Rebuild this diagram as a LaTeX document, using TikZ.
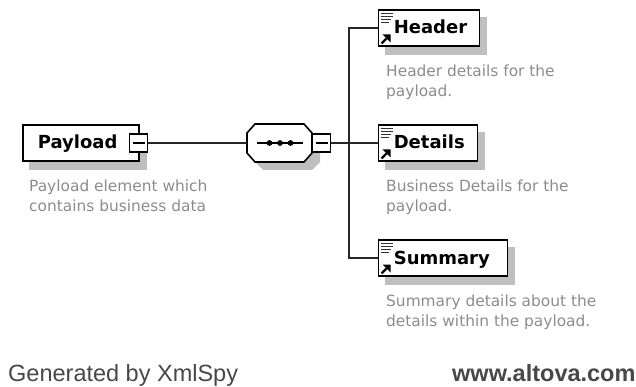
\documentclass[tikz,border=0pt]{standalone}
\usepackage{fontspec}
\setmainfont{Liberation Sans}
\newfontfamily\dvb{DejaVu Sans}[BoldFont={DejaVu Sans Bold}]
\definecolor{shade}{gray}{0.75}
\definecolor{desc}{gray}{0.55}
\tikzset{
  x=1pt,y=-1pt,
  boxrect/.style={draw=black,line width=1.6pt,fill=white,minimum height=36.5pt,inner xsep=0pt,inner ysep=0pt,anchor=west,text=black,align=left,text height=12pt,text depth=0pt,font=\dvb\bfseries\fontsize{18}{18}\selectfont},
  shadowfill/.style={fill=shade,draw=none},
  minusbox/.style={draw=black,line width=1.5pt,fill=white,minimum size=18pt,inner sep=0pt},
  link/.style={draw=black!85,line width=1.5pt},
  descr/.style={text=desc,anchor=north west,inner sep=0pt,align=left,font=\dvb\fontsize{15.4}{20}\selectfont},
  foot/.style={text=black!72,inner sep=0pt,anchor=base west,font=\fontsize{23.5}{26}\selectfont}
}
\newcommand{\refmark}[2]{%
  \draw[line width=1pt,black!80] (#1+3,#2+4)--(#1+15,#2+4) (#1+3,#2+7)--(#1+15,#2+7) (#1+3,#2+10)--(#1+13,#2+10) (#1+3,#2+13)--(#1+11,#2+13);
  \draw[line width=2.2pt] (#1+4,#2+34)--(#1+9,#2+29);
  \fill (#1+13,#2+25)--(#1+13,#2+33)--(#1+5,#2+25)--cycle;}
\begin{document}
\begin{tikzpicture}
\useasboundingbox (0,0) rectangle (636,387);
% shadows
\fill[shadowfill] (29,133) rectangle (147,170);
\fill[shadowfill] (255,133)--(320,133)--(320,162)--(312,170)--(263,170)--(255,162)--cycle;
\fill[shadowfill] (385,17) rectangle (487,55);
\fill[shadowfill] (385,132) rectangle (485,170);
\fill[shadowfill] (385,247) rectangle (515,285);
% nodes
\node[boxrect,text width=116pt] (payload) at (22,143) {\hspace*{15pt}Payload};
\node[minusbox] (m1) at (138.5,143) {};
\draw[line width=1.3pt] (m1.center)+(-6,0) -- +(6,0);
\node[boxrect,text width=101pt] (header) at (377.5,28) {\hspace*{15.5pt}Header};
\node[boxrect,text width=99pt] (details) at (377.5,143) {\hspace*{15.5pt}Details};
\node[boxrect,text width=129pt] (summary) at (377.5,258) {\hspace*{15.5pt}Summary};
\refmark{377.5}{9.5}
\refmark{377.5}{124.5}
\refmark{377.5}{239.5}
\coordinate (seqw) at (247,143);
\draw[line width=1.6pt,fill=white] (255,124)--(304,124)--(312,133)--(312,153)--(304,162)--(255,162)--(247,153)--(247,133)--cycle;
\draw[line width=1.5pt] (257,143)--(303,143);
\fill (269.5,143) circle (2.9) (280,143) circle (2.9) (290.5,143) circle (2.9);
\node[minusbox] (m2) at (321.5,143) {};
\draw[line width=1.3pt] (m2.center)+(-6,0) -- +(6,0);
\coordinate (bus) at (349,143);
% connectors
\draw[link] (m1.east) -- (seqw);
\draw[link] (m2.east) -- (details.west);
\draw[link] (bus) |- (header.west);
\draw[link] (bus) |- (summary.west);
% descriptions
\node[descr] (d1) at (29,180) {Payload element which\\contains business data};
\node[descr] (d2) at (386,65) {Header details for the\\payload.};
\node[descr] (d3) at (386,180) {Business Details for the\\payload.};
\node[descr] (d4) at (386,295) {Summary details about the\\details within the payload.};
% footer
\node[foot] (g) at (8,381) {Generated by XmlSpy};
\node[foot,font=\bfseries\fontsize{23.5}{26}\selectfont] (w) at (452,381) {www.altova.com};
\end{tikzpicture}
\end{document}
